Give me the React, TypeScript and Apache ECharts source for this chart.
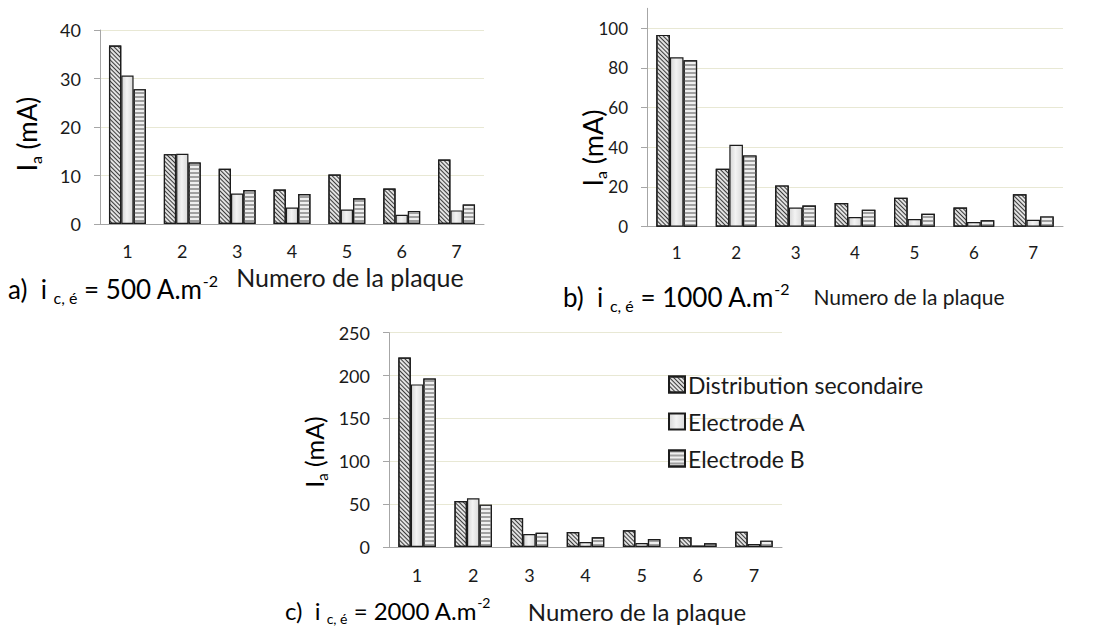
import React, { useEffect, useRef } from 'react';
import * as echarts from 'echarts';

const categories = ['1', '2', '3', '4', '5', '6', '7'];
const seriesNames = ['Distribution secondaire', 'Electrode A', 'Electrode B'];

// a) 500 A.m-2
const distA = [36.8, 14.4, 11.4, 7.1, 10.2, 7.3, 13.3];
const elecA_A = [30.6, 14.5, 6.3, 3.4, 3.0, 1.9, 2.8];
const elecB_A = [27.8, 12.7, 7.0, 6.2, 5.3, 2.7, 4.0];

// b) 1000 A.m-2
const distB = [96.6, 29.2, 20.8, 11.9, 14.6, 9.7, 16.3];
const elecA_B = [85.3, 41.3, 9.7, 4.9, 3.9, 2.4, 3.5];
const elecB_B = [83.8, 35.9, 10.7, 8.6, 6.5, 3.2, 5.2];

// c) 2000 A.m-2
const distC = [221, 53.7, 33.8, 17.5, 19.4, 11.3, 17.9];
const elecA_C = [189.7, 56.8, 15.2, 5.8, 4.7, 1.9, 3.5];
const elecB_C = [196.7, 49.4, 16.7, 11.3, 9.3, 4.3, 7.4];

// y axis ranges (min, max, interval)
const yRangeA = [0, 40, 10];
const yRangeB = [0, 110, 20];
const yRangeC = [0, 250, 50];

const xTitle = 'Numero de la plaque';
const yTitle = '{m|I}{sub|a}{m| (mA)}';
const captionA = '{m|a)  i }{sub|c, é}{m| = 500 A.m}{sup|-2}';
const captionB = '{m|b)  i }{sub|c, é}{m| = 1000 A.m}{sup|-2}';
const captionC = '{m|c)  i }{sub|c, é}{m| = 2000 A.m}{sup|-2}';

const FONT = 'Lato';

export default function App() {
  const ref = useRef<HTMLDivElement>(null);
  useEffect(() => {
    if (!ref.current) return;
    const chart = echarts.init(ref.current, null, { renderer: 'svg' });

    const border = { borderColor: '#1c1c1c', borderWidth: 1.2 };
    const itemStyles = [
      {
        color: '#e2e2e2',
        ...border,
        decal: {
          symbol: 'rect',
          symbolSize: 1,
          color: '#3c3c3c',
          dashArrayX: [1, 0],
          dashArrayY: [0.9, 1.9],
          rotation: Math.PI / 4,
        },
      },
      {
        color: new echarts.graphic.LinearGradient(0, 0, 1, 0, [
          { offset: 0, color: '#d6d6d6' },
          { offset: 0.45, color: '#f3f3f3' },
          { offset: 1, color: '#dadada' },
        ]),
        ...border,
      },
      {
        color: '#efefef',
        ...border,
        decal: {
          symbol: 'rect',
          symbolSize: 1,
          color: '#a0a0a0',
          dashArrayX: [1, 0],
          dashArrayY: [1.2, 1.8],
          rotation: 0,
        },
      },
    ];

    const grids = [
      { left: 100, top: 30, width: 384, height: 194 },
      { left: 647, top: 8.3, width: 416, height: 218.4 },
      { left: 389, top: 332.7, width: 393, height: 214.3 },
    ];
    const ranges = [yRangeA, yRangeB, yRangeC];
    const tickFont = [18, 17, 18];
    const catMargin = [18, 17, 19];
    const barW = [12.3, 13.6, 12.5];
    const data = [
      [distA, elecA_A, elecB_A],
      [distB, elecA_B, elecB_B],
      [distC, elecA_C, elecB_C],
    ];

    const axisGrey = '#a6a6a6';

    const xAxis = grids.map((_, i) => ({
      type: 'category',
      gridIndex: i,
      data: categories,
      axisLine: { show: true, lineStyle: { color: axisGrey, width: 1 } },
      axisTick: { show: false },
      axisLabel: {
        color: '#1a1a1a',
        fontFamily: FONT,
        fontSize: tickFont[i],
        lineHeight: tickFont[i],
        margin: catMargin[i],
      },
      splitLine: { show: false },
    }));

    const yAxis = grids.map((_, i) => ({
      type: 'value',
      gridIndex: i,
      min: ranges[i][0],
      max: ranges[i][1],
      interval: ranges[i][2],
      axisLine: { show: true, lineStyle: { color: axisGrey, width: 1 } },
      axisTick: { show: true, length: 6, lineStyle: { color: axisGrey } },
      axisLabel: {
        color: '#1a1a1a',
        fontFamily: FONT,
        fontSize: tickFont[i],
        margin: 19,
        showMaxLabel: i === 1 ? false : true,
      },
      splitLine: {
        show: true,
        showMaxLine: i === 1 ? false : true,
        lineStyle: { color: '#e8e8d4', width: 1 },
      },
    }));

    const series: any[] = [];
    grids.forEach((_, gi) => {
      for (let s = 0; s < 3; s++) {
        series.push({
          type: 'bar',
          name: seriesNames[s],
          xAxisIndex: gi,
          yAxisIndex: gi,
          data: data[gi][s],
          barWidth: barW[gi],
          barGap: '0%',
          itemStyle: itemStyles[s],
          emphasis: { disabled: true },
        });
      }
    });

    const titleRich = (size: number) => ({
      m: { fontFamily: FONT, fontSize: size, color: '#1a1a1a', lineHeight: size * 1.25, verticalAlign: 'middle' },
      sub: { fontFamily: FONT, fontSize: Math.round(size * 0.6), color: '#1a1a1a', lineHeight: size * 1.25, verticalAlign: 'bottom' },
      sup: { fontFamily: FONT, fontSize: Math.round(size * 0.6), color: '#1a1a1a', lineHeight: size * 1.25, verticalAlign: 'top' },
    });

    const yTitleEl = (x: number, y: number, size: number) => ({
      type: 'text',
      x,
      y,
      rotation: Math.PI / 2,
      style: {
        text: yTitle,
        rich: titleRich(size),
        align: 'center',
        verticalAlign: 'middle',
      },
    });

    const xTitleEl = (x: number, y: number, size: number) => ({
      type: 'text',
      x,
      y,
      style: {
        text: xTitle,
        fontFamily: FONT,
        fontSize: size,
        lineHeight: size,
        fill: '#1a1a1a',
        align: 'center',
        verticalAlign: 'middle',
      },
    });

    const captionEl = (x: number, y: number, text: string, size: number) => ({
      type: 'text',
      x,
      y,
      style: {
        text,
        rich: titleRich(size),
        align: 'left',
        verticalAlign: 'middle',
      },
    });

    chart.setOption({
      animation: false,
      backgroundColor: '#ffffff',
      grid: grids.map((g) => ({ ...g, containLabel: false })),
      xAxis,
      yAxis,
      legend: {
        data: seriesNames,
        orient: 'vertical',
        left: 663,
        top: 368,
        itemWidth: 16,
        itemHeight: 16,
        itemGap: 14,
        icon: 'rect',
        selectedMode: false,
        textStyle: { fontFamily: FONT, fontSize: 23, color: '#1a1a1a', padding: [0, 0, 0, -2] },
      },
      tooltip: { show: false },
      graphic: [
        yTitleEl(27, 134, 26),
        yTitleEl(592, 148, 27),
        yTitleEl(314, 452, 25),
        xTitleEl(350, 277, 25),
        xTitleEl(909, 296, 21),
        xTitleEl(637, 611, 24),
        captionEl(8, 289, captionA, 26),
        captionEl(563, 297, captionB, 26),
        captionEl(285, 610, captionC, 24),
      ],
      series,
    });

    return () => chart.dispose();
  }, []);

  return (
    <div
      ref={ref}
      style={{ position: 'absolute', left: 0, top: 0, width: 1108, height: 635, background: '#fff' }}
    />
  );
}
